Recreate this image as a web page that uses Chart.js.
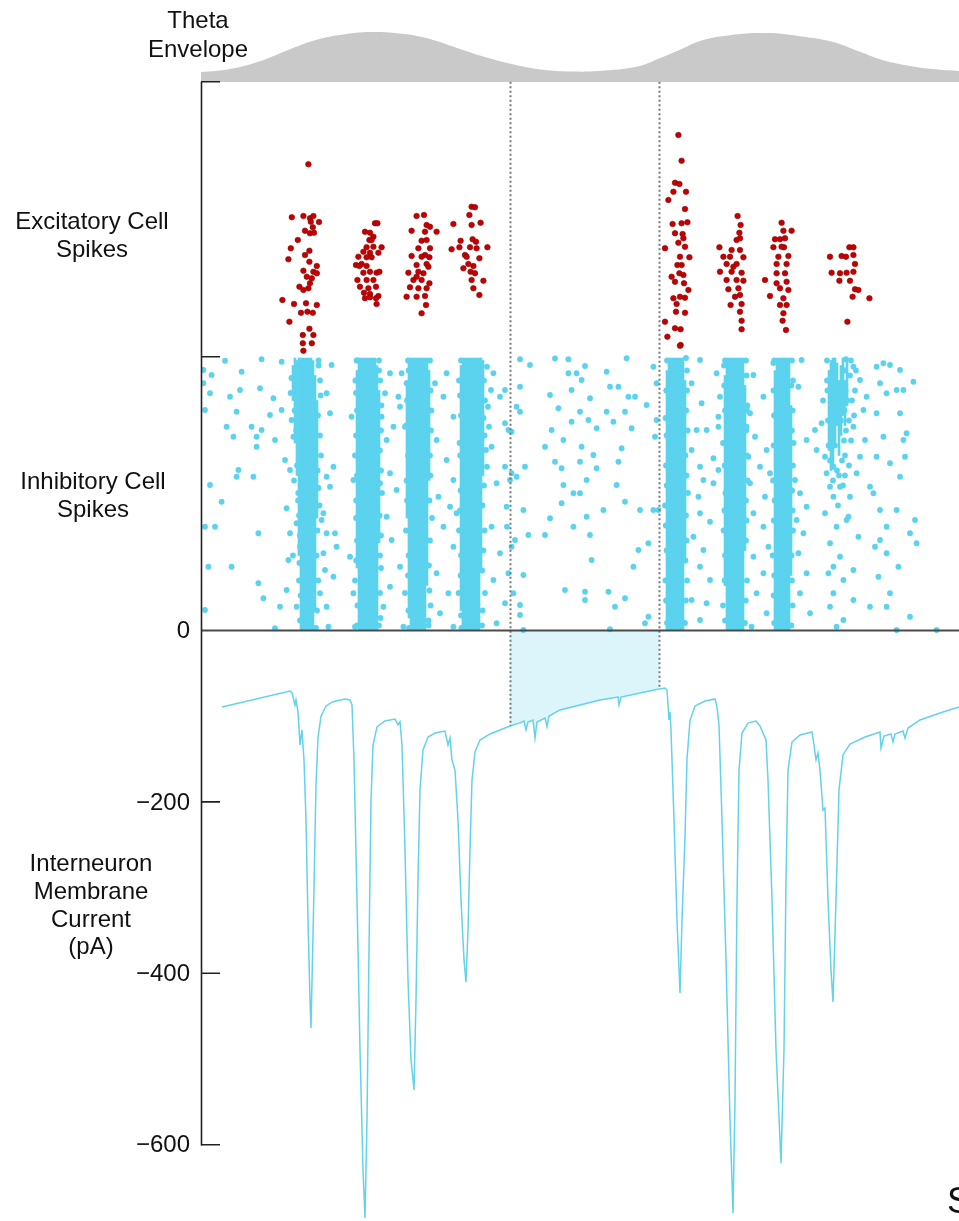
<!DOCTYPE html>
<html>
<head>
<meta charset="utf-8">
<script src="https://cdn.jsdelivr.net/npm/chart.js@4/dist/chart.umd.min.js"></script>
<style>
  html, body { margin: 0; padding: 0; background: #fff; }
  canvas { display: block; }
</style>
</head>
<body>
<canvas id="chart" width="959" height="1221"></canvas>
<script>
// time in ms, raster rows as cell index (inhibitory 0-109, excitatory 110-219), current in pA

const thetaT = [0, 14.5, 29.5, 44.5, 59.5, 72, 84.5, 97, 112, 127, 142, 157, 172, 187, 202,
  219.5, 229.5, 239.5, 249.5, 264.5, 283, 299.5, 316, 329.5, 341, 354.5, 366, 379];
const thetaAmp = [0.19, 0.25, 0.4, 0.63, 0.83, 0.92, 0.96, 0.94, 0.85, 0.67, 0.48, 0.33, 0.23, 0.2, 0.22,
  0.31, 0.46, 0.62, 0.79, 0.9, 0.94, 0.88, 0.77, 0.58, 0.42, 0.31, 0.25, 0.21];

// [time, cell]
const excSpikes = [
  [53.7,186.5],[45.4,165.3],[51.2,165.8],[54.5,164.9],[56.2,165.8],[59,163.4],[54.9,163.5],[55.9,161.3],
  [52,159.9],[54.5,158.9],[56.5,159.1],[48.4,156.2],[44.9,152.9],[54.2,151.9],[43.7,148.5],[52,150.2],
  [54.2,147.5],[57.9,145.8],[51.2,143.9],[56.2,143.5],[52.9,141.5],[55.4,140.9],[57.9,142.9],[54.5,138.9],
  [49.2,137.5],[51.2,136.2],[53.7,136.9],[40.7,132.2],[46.5,130.6],[52.5,130.9],[57.9,130.2],[50,127.1],
  [53.2,127.5],[55.9,127.1],[44.2,123.5],[54.2,120.7],[50.9,118.2],[56.2,118.2],[50.9,114.9],[55.4,114.9],
  [51.2,111.9],
  [87,162.9],[88.2,162.9],[82,159.5],[84.5,159.1],[86.2,157.5],[84.2,156.2],[85.3,156.2],[82.8,153.3],
  [86.2,153.5],[90.3,153.3],[81.2,151.5],[84.5,151.1],[88.7,151.1],[78.7,149.5],[82.8,149.3],[85.3,149.3],
  [77.5,146.2],[80.3,146.6],[82.8,145.8],[79.2,145.8],[84.5,143.5],[87.8,143.1],[81.2,143.1],[89.2,143.5],
  [78.2,140.2],[82.8,140.2],[86.2,140.2],[79.5,137.5],[83.7,136.9],[87.5,137.5],[81.5,135.1],[84.5,134.6],
  [88.7,133.8],[82,132.9],[84.5,133.3],[87.5,132.9],[87.8,130.6],
  [107.8,165.8],[111.5,166.2],[112.8,162.2],[114.5,161.5],[105.3,159.9],[112,159.5],[117.8,159.5],[112.8,156.2],
  [110.3,155.9],[108.7,152.9],[114.5,152.9],[112,150.2],[105.3,149.8],[110.3,149.5],[114.2,149.3],[107.8,146.2],
  [112.8,146.6],[103.7,143.1],[108.7,143.5],[111.2,142.9],[106.2,140.2],[110.3,140.2],[114.2,138.9],[104.5,137.3],
  [108.7,136.9],[112.8,136.9],[102.8,133.5],[107.8,133.5],[112,133.8],[112.5,130.2],[110.3,126.9],[113.7,145.5],
  [107.8,141.5],
  [135.3,169.5],[137,169.3],[134.2,166.2],[139.8,163.1],[126.2,162.6],[135.3,162.2],[129.8,155.9],[135.8,156.5],
  [137.5,155.5],[125.3,152.5],[129.2,153.3],[134.5,153.3],[137.8,152.9],[143.2,153.3],[132,150.2],[139.2,148.9],
  [133.7,146.6],[136.2,145.8],[134.8,143.5],[137,142.9],[135.3,140.2],[141.2,139.9],[136.2,136.9],[139.2,134.2],
  [131.2,144.9],[132.8,149.5],
  [238.7,198.2],[240.3,187.9],[237,179.1],[239.2,178.6],[236.2,175.5],[242.5,175.5],[233.7,172.2],[242,168.6],
  [235.8,162.6],[240.3,162.9],[243.2,163.3],[237,158.9],[240.8,158.6],[232,152.9],[238.7,155.1],[242,153.5],
  [244.2,149.3],[239.5,149.5],[240.3,146.2],[239.2,142.9],[241.2,142.2],[237,139.5],[241.5,138.9],[243.7,136.2],
  [236.2,132.9],[239.5,133.5],[242,133.1],[237.8,130.6],[237.5,127.5],[242,127.1],[232,123.5],[233.2,117.5],
  [237,120.9],[239.8,120.5],[239.8,114.2],[238.2,146.2],[235.3,141.5],[241.2,156.9],[239.5,113.9],
  [268.3,165.8],[269.8,162.2],[269.2,159.1],[267.8,156.2],[269.5,156.9],[259.2,153.3],[265.3,152.2],[269.5,152.2],
  [261.2,149.5],[264.5,149.5],[271.2,149.3],[262.8,146.6],[267.8,146.6],[259.5,143.5],[265.3,143.5],[270.3,143.1],
  [262.8,140.2],[267.8,140.2],[271.2,139.9],[263.7,136.5],[268.7,136.9],[269.5,134.2],[264.8,130.2],[270.3,130.6],
  [269.5,127.5],[270.3,123.9],[270.3,120.5],[267,133.5],[266.2,145.5],
  [290.3,163.1],[291.2,159.9],[295.3,159.9],[287,156.5],[289.5,156.5],[292,156.9],[286.2,153.3],[291.5,153.3],
  [293.7,149.8],[288.7,149.5],[287.8,146.6],[292.8,146.6],[282,140.2],[287.8,142.9],[292,142.9],[287.8,138.9],
  [292.8,139.5],[284.5,133.8],[289.5,136.9],[293.7,136.2],[291.2,132.9],[289.5,130.2],[292.8,130.2],[291.2,126.9],
  [290.8,123.9],[292.5,120.2],[290.3,153.5],
  [324.2,153.3],[326.2,153.3],[314.5,149.5],[320.3,149.8],[322.5,149.5],[326.2,150.2],[327,146.6],[315.3,143.1],
  [319.5,142.9],[322.8,143.1],[326.2,143.5],[319.2,139.9],[324.5,139.9],[327,136.5],[328.7,136.2],[325.8,133.5],
  [334.2,132.9],[323.2,123.5]
];

// [time, cell] sparse inhibitory spikes
const inhSpikes = [
  [1.2,104.2],[5.3,102.2],[1.2,98.9],[4.5,94.9],[2,88.2],[12,107.9],[20.3,103.5],[14.5,93.5],[19.5,96.2],
  [17.8,87.5],[12.8,81.5],[25.3,81.5],[27.8,77.5],[30.3,80.2],[16.2,77.5],[29.5,96.9],[30.3,108.5],[40.3,107.5],
  [36.2,92.9],[34.5,86.2],[37,76.2],[27.8,73.5],[18.7,64.2],[17.8,61.5],[26.2,61.5],[10.3,51.5],[4.5,58.2],
  [2,41.5],[7,41.5],[28.7,38.9],[3.7,25.5],[15.3,25.5],[28.7,18.9],[31.2,12.9],[39.5,9.5],[2,8.2],[37,0.9],
  [42.8,16.2],[43.7,28.2],[44.5,38.9],[42.8,48.9],[42,68.2],[44.5,64.2],[45.3,84.2],[46.2,77.5],[40.3,88.2],
  [65.3,106.2],[62.8,94.9],[64.5,86.9],[62.8,61.5],[66.2,65.5],[64.5,57.5],[61.2,46.9],[62.8,38.9],[67,38.9],
  [62,24.2],[66.2,21.5],[62.8,9.5],[63.7,1.5],[67.8,33.5],
  [47.8,42.9],[49.5,33.5],[51.2,22.9],[60.3,44.2],[61.2,30.9],[59.5,14.9],[47.8,9.5],
  [46.5,60],[46,30],[59.5,100],[60,70],[59.3,50],[45.2,101],[44.8,95],[58.8,106],[49,20],[48.5,52],
  [47.5,104],[46.8,88],[47.6,80],[48,66],[48.6,55],[49,46],[49.4,38],[49.2,27],[49.8,14],[49.5,4],
  [58.8,108],[59.8,94],[58.5,86],[59.5,78],[58.3,64],[58.8,57],[58.2,40],[57.8,30],[58.6,20],[58,8],[57.5,1],
  [94.5,102.9],[92,94.9],[90.3,85.5],[92.8,76.2],[94.5,62.9],[97.8,56.2],[92.8,45.5],[95.3,36.2],[99.5,25.5],
  [94.5,17.5],[101.2,1.5],[91.2,9.5],[89.5,58.9],[98.7,93.5],[96.2,81.5],
  [75.3,85.5],[76.2,60.2],[74.5,29.5],[76.2,14.9],[77,1.5],
  [77.5,95],[77,70],[77.5,45],[77,20],[90,80],[90.5,55],[90,25],[89.8,5],[78.2,108],[89,104],
  [77.8,108],[77.2,100],[78,88],[77.5,78],[78,62],[77.6,52],[78,36],[77.6,28],[78.2,10],[78,2],
  [89,108],[89.6,100],[90.2,90],[89.5,72],[90,64],[89.3,46],[90,38],[89.5,30],[89.5,15],[89,2],
  [100.3,102.9],[102.8,98.9],[99.5,89.5],[102,81.5],[102.5,40],[102,15],[115,80],[115.5,45],[114.8,10],
  [103.5,108],[113.8,4],[102.8,60],
  [103.8,104],[103,92],[102.6,82],[103.5,70],[103,52],[103.8,30],[103.5,22],[103.7,8],[104,1],
  [114.5,108],[114.8,96],[115.2,88],[114.5,70],[114.7,62],[114.2,52],[114.5,36],[114,26],[114.2,16],[113.8,2],
  [117,98.9],[121.2,93.5],[126.2,85.5],[117.8,76.2],[122.8,68.2],[126.2,60.2],[118.7,53.5],[124.5,49.5],
  [121.2,41.5],[126.2,33.5],[117.8,22.9],[123.7,14.9],[119.5,6.9],[126.2,1.5],[122.8,102.9],[127.8,46.9],
  [129,100],[129.3,75],[129,40],[128.8,15],
  [130,108],[129.5,94],[130,86],[129.6,70],[129.8,56],[129.5,48],[130,30],[129.8,22],[130,6],[130.2,1],
  [141.5,100],[142,92],[141.3,85],[141.8,78],[141.5,58],[140.8,50],[141.2,32],[140.6,24],[140.8,8],[140.5,2],
  [143,105.5],[145,96.2],[143.5,89.5],[144,81.5],[142.5,72.2],[143,65.5],[141.8,40],[142,15],
  [146.2,102.9],[149.5,93.5],[152,82.9],[145.3,73.5],[147.8,58.9],[152.8,49.5],[145.3,41.5],[149.5,30.9],
  [146.2,20.2],[152,10.9],[147.8,2.9],[155.3,62.9],[157.8,89.5],[157,36.2],
  [152,96.2],[153.7,80.2],[154.5,60.2],[153,41.5],[155.3,33.5],[153.7,22.9],[156.2,14.9],[152,65.5],
  [159.5,108.5],[164.5,106.2],[177,108.8],[183.7,108.5],[192,105.8],[202.8,103.5],[212.8,108.9],[159.5,97.5],
  [174.5,94.2],[183.7,102.9],[187.8,102.9],[185.3,96.2],[190.3,100.2],[204.5,97.5],[208.7,97.5],[213.7,93.5],
  [217,93.5],[222.8,90.2],[159.5,87.5],[178.7,88.9],[189.5,87.5],[194.5,92.9],[202.8,87.5],[212,87.5],
  [155.3,79.5],[175.3,80.2],[185.3,83.5],[193.7,84.2],[197.8,80.9],[206.2,83.5],[215.3,80.9],[172,73.5],
  [181.2,76.2],[190.3,73.5],[196.2,70.2],[210.3,72.9],[162,65.5],[177,67.5],[180.3,64.9],[189.5,67.5],
  [197.8,64.9],[208.7,67.5],[157.8,61.5],[181.2,58.2],[186.2,54.9],[189.5,54.9],[192.8,60.2],[207.8,58.2],
  [212,51.5],[161.2,48.2],[180.3,50.9],[192.8,45.5],[201.2,48.2],[219.5,48.2],[226.2,48.2],[174.5,44.9],
  [163.7,38.2],[172,38.2],[186.2,41.5],[194.5,38.2],[218.7,32.2],[223.7,34.9],[195.3,28.2],[216.2,25.5],
  [161.2,22.2],[182,16.2],[192,15.5],[203.7,15.5],[212,12.9],[192,12.2],[207,9.5],[159.5,10.2],[159.5,6.2],
  [223.7,5.5],[222,2.9],[161.2,0.2],[204.5,0.5],
  [227.8,84.2],[227,77.5],[228.7,48.2],[226.2,105.5],[227.8,98.9],
  [232,50],[232.2,20],[243.3,80],[243.5,55],[243,20],[232.3,85],[243,104],
  [233,108],[232.6,96],[232.8,78],[232.5,66],[232.9,58],[232.4,42],[232.8,32],[232.5,12],[233,3],
  [242.5,109],[243,96],[242.6,88],[242.2,70],[242.8,62],[242.5,46],[242.8,36],[242.2,28],[242.4,12],[242,3],
  [245.3,98.9],[249.5,108.2],[250.3,90.9],[247.8,80.2],[252.8,80.2],[245.3,72.2],[249.5,65.5],[256.2,68.9],
  [258.7,64.2],[251.2,60.2],[248.7,53.5],[256.2,58.9],[249.5,46.9],[254.5,43.5],[246.2,37.5],[251.2,32.2],
  [249.5,25.5],[254.5,20.2],[245.3,12.2],[252.8,10.9],[249.5,4.2],[257.8,102.9],[259.5,93.5],[258.7,81.5],
  [258.7,85.5],
  [261,75],[261.3,40],[273,20],[273.3,60],[261.5,106],[261,10],[273,88],
  [262,108],[261.6,98],[262,88],[261.8,66],[262.2,55],[261.7,48],[262,30],[261.8,20],[262,4],
  [272.5,108],[272.8,102],[273.2,90],[272.6,80],[273,70],[272.5,52],[272.8,44],[272.5,36],[272.4,12],[272,3],
  [276.2,102.2],[281.2,93.5],[274.5,86.9],[277,77.5],[282.8,72.2],[279.5,65.5],[284.5,62.9],[274.5,58.9],
  [282,53.5],[276.2,46.9],[281.2,41.5],[283.7,33.5],[276.2,29.5],[281.2,22.9],[277.8,14.9],[282.8,6.9],
  [275.3,1.5],[272.8,81.5],[273.7,69.5],
  [286,60],[285.8,30],[296,100],[296.3,75],[296,40],[286.2,107],[295.8,10],
  [286.6,108],[286.2,96],[286.5,86],[286.3,74],[286.8,52],[286.4,44],[286.6,22],[286.3,14],[286.6,3],
  [295.5,108],[295.2,98],[295.8,88],[295.5,80],[296,66],[295.6,56],[295.8,48],[295.3,30],[295.5,20],[295.2,2],
  [297,60.2],[299.5,54.9],[302.8,49.5],[297.8,44.2],[301.2,38.9],[298.7,30.9],[302.8,22.9],[299.5,14.9],
  [304.5,6.9],[298.7,97.5],[300.3,108.2],[302.8,76.2],[307.8,72.2],[307,80.2],
  [310.3,82.9],[312,69.5],[312.8,62.9],[314.5,57.5],[316.2,53.5],[319.5,57.5],[324.5,53.5],[312,46.9],
  [317.8,41.5],[322.8,44.2],[314.5,34.9],[319.5,29.5],[313.7,22.9],[321.2,20.2],[316.2,14.9],[326.2,12.2],
  [314.5,9.5],[321.2,4.2],[317.8,1.5],[327.8,62.9],[329.5,69.5],[332,76.2],[326.2,81.5],[331.2,88.2],
  [332.8,93.5],[329.5,100.2],[326.2,105.5],[323.7,45.5],[328.7,37.5],[316.2,25.5],[326.2,24.2],[334.5,57.5],
  [316.2,65.5],[313,100],[318,96],[323,92],[315,88],[320,84],[325,76],[317,74],[322,70],[311,92],[327,96],
  [319,62],[324,66],[313,108],[322.5,108.5],
  [313.2,96],[313.5,84],[313.8,74],[314.5,68],[322,104],[322.3,96],[321.8,88],[322.5,80],[321.5,76],
  [320.5,68],[318,64],[316,60],[324.5,102],[325.5,92],[324,84],[326.5,86],[325,108],[327.5,104],
  [321,58],[318.5,50],[322,62],[315.5,78],
  [337.8,105.5],[341.2,106.9],[344.5,106.2],[349.5,104.2],[339.5,98.9],[342.8,94.9],[347.8,96.2],[351.2,96.2],
  [356.2,99.5],[337.8,86.9],[349.5,86.9],[352.8,78.9],[341.2,77.5],[351.2,76.2],[337.8,69.5],[352,69.5],
  [344.5,66.9],[349.5,61.5],[336.2,54.9],[339.5,48.2],[347.8,48.2],[357,44.2],[342.8,41.5],[354.5,38.9],
  [357.8,34.9],[337,33.5],[342.8,30.9],[348.7,25.5],[338.7,21.5],[344.5,14.9],[334.5,9.5],[342.8,9.5],
  [354.5,5.5],[347.8,0.2],[367.8,0.2],[339.5,36.2]
];

// [1 ms bin, lowest cell, highest cell] where the inhibitory population fires densely
const inhCore = [
  [46,92,106],[47,75,109],[48,62,108],[49,30,109],[50,0,109],[51,0,109],[52,0,109],[53,0,109],[54,0,109],
  [55,0,109],[56,0,108],[57,8,102],[58,45,92],
  [78,25,104],[79,0,109],[80,0,109],[81,0,109],[82,0,109],[83,0,109],[84,0,109],[85,0,109],[86,0,109],
  [87,0,109],[88,0,106],[89,35,96],
  [103,45,100],[104,5,109],[105,0,109],[106,0,109],[107,0,109],[108,0,109],[109,0,109],[110,0,109],
  [111,0,109],[112,0,109],[113,18,109],[114,60,104],
  [130,8,106],[131,0,109],[132,0,109],[133,0,109],[134,0,109],[135,0,109],[136,0,109],[137,0,109],
  [138,0,109],[139,0,109],[140,25,109],[141,62,108],
  [233,0,104],[234,0,109],[235,0,109],[236,0,109],[237,0,109],[238,0,109],[239,0,109],[240,0,109],
  [241,0,109],[242,28,100],
  [262,18,102],[263,0,109],[264,0,109],[265,0,109],[266,0,109],[267,0,109],[268,0,109],[269,0,109],
  [270,0,109],[271,0,109],[272,32,98],
  [287,0,104],[288,0,109],[289,0,109],[290,0,109],[291,0,109],[292,0,109],[293,0,109],[294,0,109],
  [295,22,90],
  [314,72,104],[315,64,108],[316,66,109],[317,74,109],[318,82,107],[319,70,100],[320,78,106],[321,86,109],
  [322,82,100],[323,90,108]
];

const traceT = [10.5, 44.5, 45.5, 47, 47.5, 48.5, 49.5, 50.5, 51.5, 52.5, 53.5, 54.5, 55, 56.5, 57.5, 58.5,
  60, 62.5, 66, 72, 74.5, 75.5, 76.5, 78, 79.5, 81, 82, 83, 84, 85, 86, 88, 92, 97, 98.5, 99.5, 100.5, 102,
  103.5, 105, 106.5, 107.5, 108.5, 109.5, 111, 113.5, 117, 122, 123.5, 124.5, 125.5, 127, 128.5, 130, 131.5,
  132.5, 133.5, 134.5, 135.5, 137, 139.5, 144.5, 154.5, 159.5, 161.5, 162.5, 163.5, 166, 167, 168, 172, 173,
  174, 179.5, 189.5, 199.5, 208.5, 209, 210, 219.5, 229, 232, 233, 234, 234.5, 235, 236.5, 238, 239.5, 240.5,
  242, 243, 244.5, 247, 252, 257, 258, 259, 260.5, 262.5, 264.5, 266, 267, 268, 269, 270.5, 273.5, 277.5,
  279.5, 281, 282.5, 283.5, 285.5, 287.5, 290, 291.5, 292.5, 293.5, 295.5, 299.5, 305.5, 306.5, 307.5, 308.5,
  309.5, 311, 312, 313.5, 315, 316, 317.5, 319, 321, 324.5, 332, 339.5, 340, 341.5, 345, 346, 347, 351, 352,
  353.5, 359.5, 369.5, 379];
const traceI = [-89.3, -70.6, -72.9, -86.9, -81, -95, -133.6, -116, -151, -221, -338, -431, -463.8, -300, -180, -125,
  -100, -88, -83, -79.9, -81, -86.9, -151, -314, -489, -629, -685.5, -571, -373, -198, -134, -112.4, -105.6, -103.3, -110, -106.7, -133.6, -256,
  -407.8, -501, -536, -431, -291, -186, -139.4, -124.3, -119.6, -117.3, -133.6, -125.4, -151, -162.8, -221, -314, -384,
  -410.2, -349.5, -256, -174.4, -141.7, -127.8, -120.7, -111.4, -107.8, -105.6, -116, -106.7, -104.4, -125.4, -106.7, -102.1, -112.4,
  -99.8, -92.7, -86.9, -81, -77.6, -86.9, -77.6, -72.9, -68.3, -67.1, -69.4, -104.4, -95, -116, -221, -338, -423, -338,
  -240, -150, -105, -88, -82.3, -79.9, -89.3, -110.3, -221, -384, -571, -679.7, -548, -314, -162.8, -119.6, -108, -105.6,
  -111.4, -119.6, -127.8, -174.4, -314, -489, -621.4, -489, -291, -162.8, -130.1, -121.9, -118.4, -133.6, -151, -143,
  -162.8, -209.5, -207.2, -314, -396, -433.5, -314, -186, -145.2, -132.4, -124.3, -118.4, -137.1, -123.1, -120.7, -130.1, -120.7, -117.3, -125.4,
  -113.8, -104.4, -96.3, -89.3];

const windowT = [154.5, 229];           // the two dashed markers
const currentTicks = [0, -200, -400, -600];
const cellBounds = [109.5, 219.5];      // top of inhibitory rows, top of excitatory rows

const cyan = '#5cd3ee';
const pts = (xs, ys) => xs.map((x, i) => ({ x: x, y: ys[i] }));
const traceAt = t => traceI[traceT.indexOf(t)];
const inWindow = traceT.map((t, i) => i).filter(i => traceT[i] >= windowT[0] && traceT[i] <= windowT[1]);
const fontFamily = '"Liberation Sans", Arial, Helvetica, sans-serif';

const decor = {
  id: 'decor',
  afterDatasetsDraw(chart) {
    const ctx = chart.ctx;
    const { x, yC, yR } = chart.scales;
    const left = chart.chartArea.left;
    const right = chart.chartArea.right;
    const topY = yR.getPixelForValue(cellBounds[1]);
    ctx.save();

    // dashed window markers
    ctx.strokeStyle = '#7a7a7a';
    ctx.lineWidth = 2;
    ctx.setLineDash([2, 2.5]);
    windowT.forEach(t => {
      const px = Math.round(x.getPixelForValue(t)) + 0.5;
      ctx.beginPath();
      ctx.moveTo(px, topY);
      ctx.lineTo(px, yC.getPixelForValue(traceAt(t)));
      ctx.stroke();
    });
    ctx.setLineDash([]);

    // zero line
    const y0 = yC.getPixelForValue(0);
    ctx.strokeStyle = '#4a4a4a';
    ctx.lineWidth = 1.8;
    ctx.beginPath();
    ctx.moveTo(left, y0);
    ctx.lineTo(right, y0);
    ctx.stroke();

    // left axis with inward ticks
    const bottomY = yC.getPixelForValue(currentTicks[currentTicks.length - 1]);
    ctx.strokeStyle = '#222';
    ctx.lineWidth = 1.6;
    ctx.beginPath();
    ctx.moveTo(left + 0.5, topY);
    ctx.lineTo(left + 0.5, bottomY + 0.8);
    ctx.stroke();
    const tickYs = cellBounds.map(c => yR.getPixelForValue(c))
      .concat(currentTicks.slice(1).map(v => yC.getPixelForValue(v)));
    ctx.beginPath();
    tickYs.forEach(ty => {
      ctx.moveTo(left, ty);
      ctx.lineTo(left + 19, ty);
    });
    ctx.stroke();

    // current tick labels
    ctx.fillStyle = '#111';
    ctx.font = '24px ' + fontFamily;
    ctx.textAlign = 'right';
    ctx.textBaseline = 'middle';
    currentTicks.forEach(v => {
      ctx.fillText(v < 0 ? '\u2212' + Math.abs(v) : String(v), left - 11, yC.getPixelForValue(v) + 1);
    });

    // row labels
    ctx.textAlign = 'center';
    ctx.textBaseline = 'alphabetic';
    ctx.fillText('Theta', 198, 28);
    ctx.fillText('Envelope', 198, 57);
    ctx.fillText('Excitatory Cell', 92, 229);
    ctx.fillText('Spikes', 92, 257);
    ctx.fillText('Inhibitory Cell', 93, 489);
    ctx.fillText('Spikes', 93, 517);
    ctx.fillText('Interneuron', 91, 871);
    ctx.fillText('Membrane', 91, 899);
    ctx.fillText('Current', 91, 927);
    ctx.fillText('(pA)', 91, 954);
    ctx.textAlign = 'left';
    ctx.font = '36px ' + fontFamily;
    ctx.fillText('S', 947, 1213);
    ctx.restore();
  }
};

Chart.defaults.font.family = fontFamily;

new Chart(document.getElementById('chart'), {
  type: 'scatter',
  data: {
    datasets: [
      {
        label: 'Excitatory cell spikes',
        data: excSpikes,
        xAxisID: 'x', yAxisID: 'yR',
        pointRadius: 2.8,
        pointBackgroundColor: '#c40000',
        pointBorderColor: '#8c0000',
        pointBorderWidth: 0.6,
        order: 0
      },
      {
        label: 'Inhibitory cell spikes',
        data: inhSpikes,
        xAxisID: 'x', yAxisID: 'yR',
        pointRadius: 2.9,
        pointBackgroundColor: cyan,
        pointBorderWidth: 0,
        order: 1
      },
      {
        type: 'bar',
        label: 'Inhibitory bursts',
        data: inhCore.map(b => ({ x: b[0], y: [b[1], b[2]] })),
        xAxisID: 'x', yAxisID: 'yR',
        backgroundColor: cyan,
        borderWidth: 0,
        barThickness: 2,
        order: 2
      },
      {
        type: 'line',
        label: 'Interneuron membrane current',
        data: pts(traceT, traceI),
        xAxisID: 'x', yAxisID: 'yC',
        borderColor: '#62d3ea',
        borderWidth: 1.5,
        pointRadius: 0,
        tension: 0,
        fill: false,
        order: 3
      },
      {
        type: 'line',
        label: 'Window',
        data: inWindow.map(i => ({ x: traceT[i], y: traceI[i] })),
        xAxisID: 'x', yAxisID: 'yC',
        borderWidth: 0,
        pointRadius: 0,
        backgroundColor: '#dcf5fa',
        fill: { value: 0 },
        order: 4
      },
      {
        type: 'line',
        label: 'Theta envelope',
        data: pts(thetaT, thetaAmp),
        xAxisID: 'x', yAxisID: 'yE',
        borderWidth: 0,
        pointRadius: 0,
        backgroundColor: '#c9c9c9',
        fill: 'origin',
        tension: 0.4,
        order: 5
      }
    ]
  },
  options: {
    responsive: false,
    animation: false,
    devicePixelRatio: 1,
    events: [],
    layout: { padding: 0, autoPadding: false },
    plugins: { legend: { display: false }, tooltip: { enabled: false } },
    scales: {
      x: { type: 'linear', min: 0, max: 379, display: false, offset: false },
      yC: {
        type: 'linear',
        position: 'left',
        min: -689,
        max: 735.7,
        afterFit: s => { s.width = 201; },
        afterBuildTicks: s => { s.ticks = currentTicks.map(v => ({ value: v })); },
        grid: { display: false, drawTicks: false },
        border: { display: false },
        ticks: { display: false }
      },
      yR: { type: 'linear', display: false, min: -236.2, max: 252.2 },
      yE: { type: 'linear', display: false, min: -21.904, max: 1.577 }
    }
  },
  plugins: [decor]
});
</script>
</body>
</html>
